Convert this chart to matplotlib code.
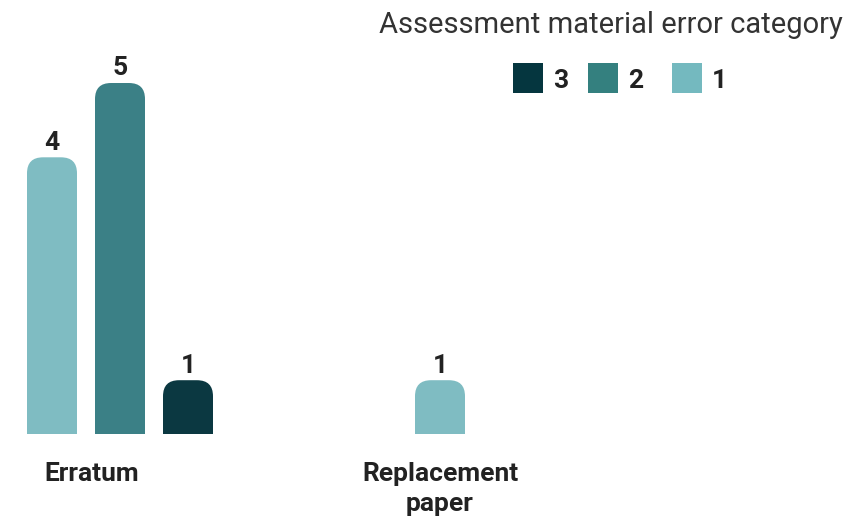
import matplotlib.pyplot as plt
import matplotlib.transforms as mtransforms
from matplotlib.patches import FancyBboxPatch, Rectangle

plt.rcParams['font.family'] = ['Roboto', 'DejaVu Sans']

categories = ["Erratum", "Replacement\npaper"]
error_cats = ["1", "2", "3"]
values = {
    "1": [4, 1],
    "2": [5, 0],
    "3": [1, 0],
}
legend_order = ["3", "2", "1"]
bar_colors = {"1": "#7fbcc2", "2": "#3b8086", "3": "#0b3841"}
legend_colors = {"1": "#74b9bf", "2": "#34807f", "3": "#05363f"}
text_color = "#222222"

W, H = 847, 518
fig = plt.figure(figsize=(W / 100, H / 100), dpi=100)
# axes from the baseline (y=434 px) up to the top
ax = fig.add_axes([0, (H - 434) / H, 1, 434 / H])
px_x = 68.0   # px per x unit
px_y = 74.3   # px per value unit
x0 = 52.0     # px of x=0
ax.set_xlim(-x0 / px_x, (W - x0) / px_x)
ax.set_ylim(0.276, 0.276 + 434 / px_y)
ax.axis("off")

group_centers = [1.0, (440 - x0) / px_x]
label_x = [(92 - x0) / px_x, (440 - x0) / px_x]
bar_w = 50 / px_x
radius = 16 / px_x
aspect = px_x / px_y

for g, center in enumerate(group_centers):
    present = [c for c in error_cats if values[c][g] > 0]
    n = len(present)
    for i, c in enumerate(present):
        v = values[c][g]
        x = center + (i - (n - 1) / 2)
        bar = FancyBboxPatch((x - bar_w / 2, -1), bar_w, v + 1,
                             boxstyle=f"round,pad=0,rounding_size={radius}",
                             mutation_aspect=aspect,
                             facecolor=bar_colors[c], edgecolor="none")
        ax.add_patch(bar)
        ax.annotate(str(v), (x, v), xytext=(0, 5.5), textcoords="offset points",
                    ha="center", va="baseline", fontsize=19, fontweight="bold",
                    color=text_color)

trans = mtransforms.blended_transform_factory(ax.transData, fig.transFigure)
for g, name in enumerate(categories):
    ax.text(label_x[g], 1 - 462 / H, name, transform=trans, ha="center", va="top",
            fontsize=19, fontweight="bold", color=text_color, linespacing=1.3,
            clip_on=False)

# legend (drawn by hand in figure pixels)
fig.text(843 / W, 1 - 33 / H, "Assessment material error category", ha="right",
         va="baseline", fontsize=21, color="#333333")
sq_left = [513, 588, 672]
for c, left in zip(legend_order, sq_left):
    fig.patches.append(Rectangle((left / W, 1 - 93 / H), 30 / W, 30 / H,
                                 transform=fig.transFigure, facecolor=legend_colors[c],
                                 edgecolor="none"))
    fig.text((left + 40) / W, 1 - 78 / H, c, ha="left", va="center_baseline",
             fontsize=19, fontweight="bold", color=text_color)

fig.savefig("out.png", dpi=100)
